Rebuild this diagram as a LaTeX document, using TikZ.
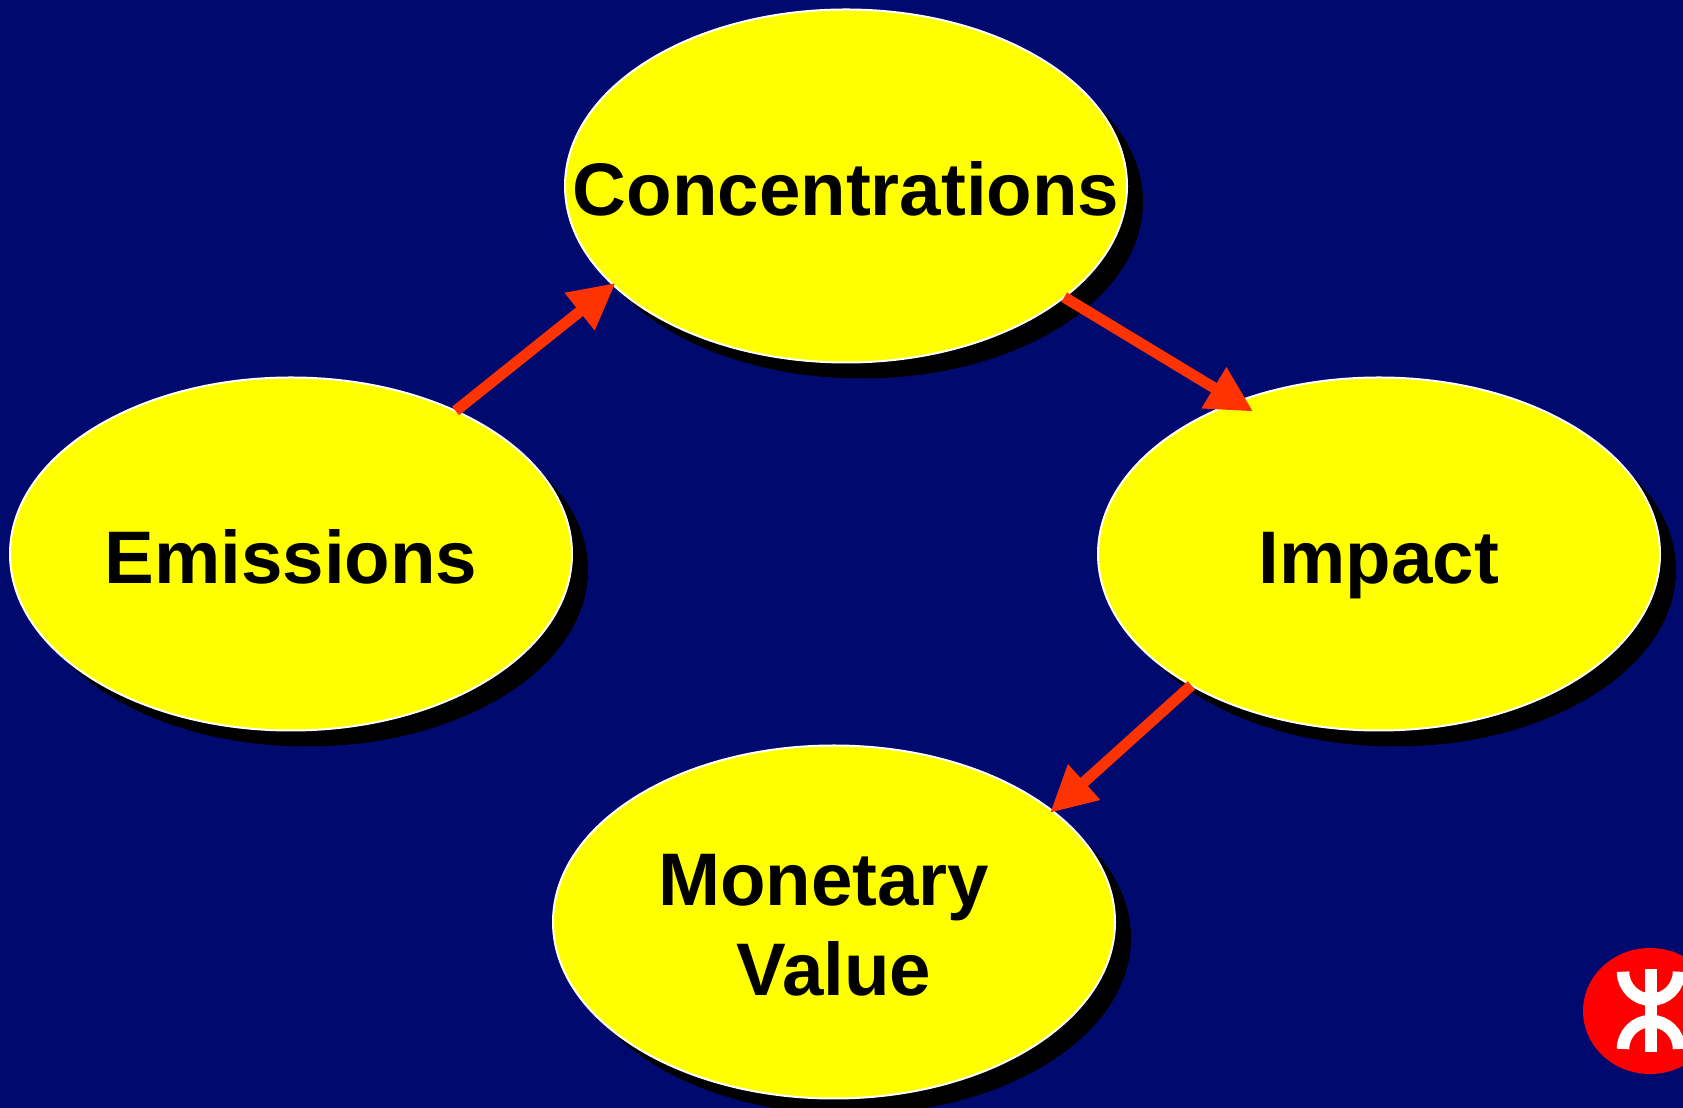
\documentclass[tikz,border=0pt]{standalone}
\usepackage{fontspec}
\setmainfont{Liberation Sans}
\usetikzlibrary{arrows.meta,shapes.geometric,shadows}
\definecolor{slideBlue}{HTML}{000A6E}
\definecolor{arrowRed}{HTML}{FF3300}
\definecolor{logoRed}{HTML}{FF0000}
\definecolor{ovalYellow}{HTML}{FFFF00}
\newcommand{\ovalText}[1]{\makebox[0pt]{#1}}
\tikzset{
	oval/.style={ellipse, draw=white, line width=2pt, fill=ovalYellow, inner sep=0pt, outer sep=0pt,
		minimum width=562pt, minimum height=353pt, align=center, text=black,
		font=\bfseries\fontsize{74.5}{90}\selectfont,
		drop shadow={shadow xshift=16pt, shadow yshift=-16pt, opacity=1, fill=black}},
	ovalLine/.style={oval, text height=60pt, text depth=0pt},
	flow/.style={draw=arrowRed, line width=11pt, -{Triangle[length=46pt,width=45pt,fill=arrowRed]}},
	logoStroke/.style={draw=white, line width=12.5pt}
}
\begin{document}
\begin{tikzpicture}[x=1pt, y=1pt]
	\useasboundingbox (0, 0.3) rectangle (1683, 1108);
	\clip (0, 0.3) rectangle (1683, 1108);
	\fill[slideBlue] (0, 0) rectangle (1683, 1108);
	%ovals
	\node[ovalLine] (concentrations) at (846, 922) {\ovalText{Concentrations}};
	\node[ovalLine] (emissions) at (291, 554) {\ovalText{Emissions}};
	\node[ovalLine] (impact) at (1379, 554) {\ovalText{Impact}};
	\node[oval] (monetary) at (834, 186) {\ovalText{\rule{0pt}{58pt}Monetary\ }\\\ovalText{Value}};
	%arrows
	\draw[flow, shorten >=-3pt] (emissions.41.5) -- (concentrations.203.6);
	\draw[flow, shorten >=-19pt] (concentrations.-27.1) -- (impact.133.7);
	\draw[flow, shorten >=-3pt] (impact.215.7) -- (monetary.27.3);
	%logo
	\fill[logoRed] (1650, 97) ellipse [x radius=67, y radius=63];
	\draw[logoStroke] (1651, 56) -- (1651, 139);
	\draw[logoStroke] (1623, 136.3) arc [start angle=180, end angle=360, radius=28];
	\draw[logoStroke] (1623, 59) arc [start angle=180, end angle=0, radius=28];
\end{tikzpicture}
\end{document}
